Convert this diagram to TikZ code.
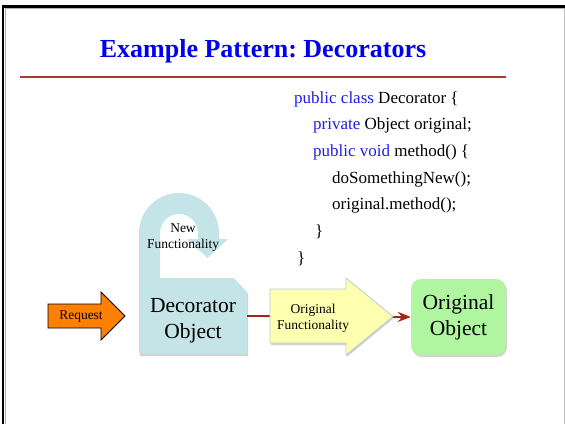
\documentclass[tikz,border=0pt]{standalone}
\usepackage{fontspec}
\setmainfont{Liberation Serif}
\frenchspacing
\usetikzlibrary{arrows.meta}
\definecolor{titleblue}{RGB}{0,0,240}
\definecolor{rulered}{RGB}{168,58,48}
\definecolor{codeblue}{RGB}{30,30,225}
\definecolor{decblue}{RGB}{197,228,232}
\definecolor{reqorange}{RGB}{255,128,0}
\definecolor{origyellow}{RGB}{255,255,176}
\definecolor{origgreen}{RGB}{176,245,160}
\definecolor{arrowedge}{RGB}{184,204,214}
\definecolor{linkred}{RGB}{165,35,20}
\tikzset{
  codeline/.style={anchor=base west, inner sep=0pt, font=\fontsize{17}{20}\selectfont},
  smalltext/.style={align=center, inner sep=0pt, font=\fontsize{13.5}{16}\selectfont},
  bigtext/.style={align=center, inner sep=0pt, font=\fontsize{21.5}{26}\selectfont},
  shadowfill/.style={fill=black!35, opacity=0.5},
}
\begin{document}
\begin{tikzpicture}[x=1pt,y=1pt]
\useasboundingbox (0,0) rectangle (565,-424);
% slide frame
\draw[black!30, line width=0.8] (5,-8) -- (565,-8);
\draw[black!30, line width=0.8] (5,-8) -- (5,-424);
\draw[black!25, line width=0.8] (564.3,-8) -- (564.3,-424);
\draw[black, line width=2.5] (3,-6.3) -- (565,-6.3);
\draw[black, line width=2.5] (3,-5) -- (3,-424);
% title
\node[anchor=base, inner sep=0pt, text=titleblue, font=\fontsize{26}{30}\selectfont\bfseries] (title) at (263,-57.5) {Example Pattern: Decorators};
\draw[rulered, line width=2] (20,-77) -- (506,-77);
% code
\node[codeline] (c1) at (294,-103) {\textcolor{codeblue}{public class} Decorator \{};
\node[codeline] (c2) at (313,-129.7) {\textcolor{codeblue}{private} Object original;};
\node[codeline] (c3) at (313,-156.3) {\textcolor{codeblue}{public void} method() \{};
\node[codeline] (c4) at (332,-183) {doSomethingNew();};
\node[codeline] (c5) at (332,-209.7) {original.method();};
\node[codeline] (c6) at (315,-236.3) {\}};
\node[codeline] (c7) at (297,-263) {\}};
% decorator object (shadow + shape)
\fill[shadowfill] (140,-280) -- (235,-280) -- (248,-294) -- (248,-356) -- (140,-356) -- cycle;
\fill[decblue] (139,-278) -- (139,-233) arc[start angle=180, end angle=0, radius=40]
  -- (219,-239) -- (228,-239) -- (207.5,-258) -- (187,-239) -- (198,-239) -- (198,-233)
  arc[start angle=0, end angle=180, radius=19] -- (160,-278) -- (234,-278) -- (247,-292)
  -- (247,-354) -- (139,-354) -- cycle;
\node[minimum width=108, minimum height=76, inner sep=0pt] (dec) at (193,-316) {};
\node[bigtext] (dectext) at (193,-321) {Decorator\\Object};
\node[smalltext] (newfun) at (183,-238) {New\\Functionality};
% request arrow
\draw[fill=reqorange, line width=0.8] (48,-304) -- (101,-304) -- (101,-292) -- (125,-316)
  -- (101,-340) -- (101,-328) -- (48,-328) -- cycle;
\node[font=\fontsize{13.5}{16}\selectfont, inner sep=0pt] (req) at (81,-317) {Request};
% original object
\fill[shadowfill, rounded corners=10] (412,-281) rectangle (507,-357);
\node[draw=none, fill=origgreen, rounded corners=10, minimum width=95, minimum height=76, inner sep=0pt, bigtext] (orig) at (458.5,-317) {Original\\Object};
% red link
\draw[linkred, line width=1.8, -{Stealth[length=13pt, width=10pt]}] (dec.east) -- (orig.west);
% yellow arrow on top
\fill[shadowfill] (271,-291) -- (347,-291) -- (347,-280) -- (394,-318) -- (347,-357) -- (347,-345) -- (271,-345) -- cycle;
\draw[fill=origyellow, draw=arrowedge, line width=0.8] (270,-289) -- (346,-289) -- (346,-278)
  -- (393,-316.5) -- (346,-355) -- (346,-343) -- (270,-343) -- cycle;
\node[smalltext] (origfun) at (313,-318) {Original\\Functionality};
\end{tikzpicture}
\end{document}
